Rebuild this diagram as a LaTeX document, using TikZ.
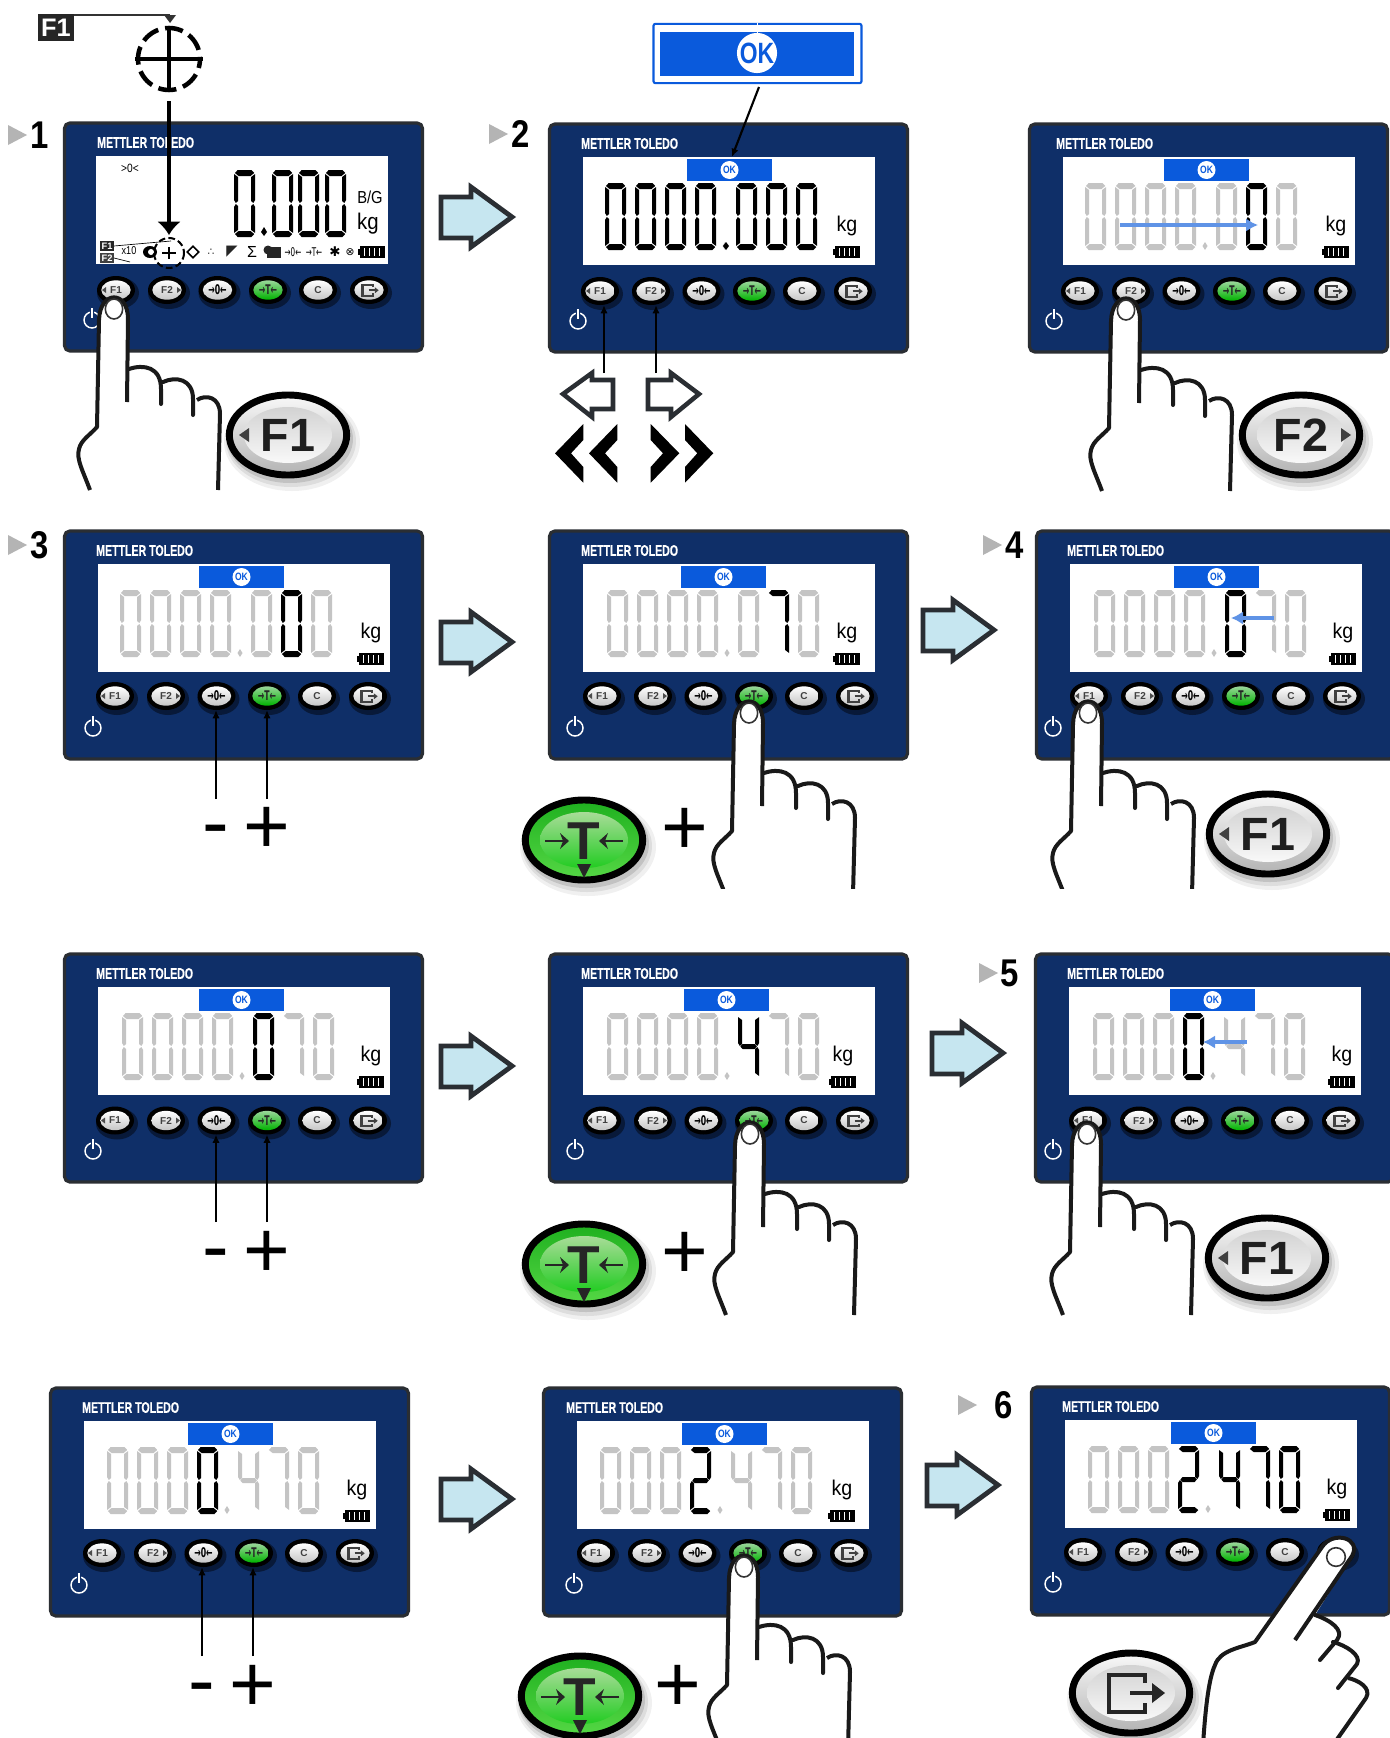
\documentclass[tikz,border=0pt]{standalone}
\usepackage{fontspec}
\usepackage{graphicx}
\setmainfont{Liberation Sans}
\newfontfamily\djv{DejaVu Sans}
\newfontfamily\ttlf[UprightFont=* Bold,FakeBold=0.6]{Liberation Sans}
\usetikzlibrary{shapes.geometric,arrows.meta,shadings}
\definecolor{navy}{HTML}{0F2F68}
\definecolor{edge}{HTML}{2A2E33}
\definecolor{gy}{HTML}{C4C4C4}
\definecolor{bk}{HTML}{000000}
\definecolor{okblue}{HTML}{0A5ADC}
\definecolor{iceblue}{HTML}{C6E6F0}
\definecolor{steel}{HTML}{5F93E6}
\definecolor{stepgrey}{HTML}{B4B4B4}
\newcommand\fsz[1]{\fontsize{#1}{#1}\selectfont}
\tikzset{
  x=0.75pt,y=-0.75pt,
  panelbox/.style={draw=edge,fill=navy,line width=2.4pt,rounded corners=4pt,minimum width=268.5pt,minimum height=171pt,inner sep=0pt},
  screenbox/.style={fill=white,minimum width=219pt,minimum height=81pt,inner sep=0pt},
  titletxt/.style={text=white,font=\ttlf\fsz{11.5},anchor=west,inner sep=0pt},
  smallouter/.style={ellipse,fill=black,minimum width=28.5pt,minimum height=21pt,inner sep=0pt},
  smallinner/.style={ellipse,minimum width=22pt,minimum height=14.5pt,inner sep=0pt,font=\bfseries\fsz{7.5},text=black!75},
  bigouter/.style={ellipse,draw=black,line width=5.2pt,minimum width=88pt,minimum height=60pt,inner sep=0pt},
  biginner/.style={ellipse,minimum width=66pt,minimum height=42pt,inner sep=0pt,font=\bfseries\fsz{35},text=black!88},
  okband/.style={fill=okblue,minimum width=63.5pt,minimum height=17pt,inner sep=0pt},
  okdisc/.style={circle,fill=white,minimum size=13.5pt,inner sep=0pt,text=okblue,font=\bfseries\fsz{8}},
  kgtxt/.style={font=\fsz{16},inner sep=0pt},
  hline/.style={line width=3pt,draw=black!90,line cap=round,line join=round},
  blockarrow/.style={fill=iceblue,draw=edge,line width=3.6pt,line join=miter},
  hollowarrow/.style={fill=white,draw=edge,line width=3.4pt,line join=miter},
  thinarrow/.style={line width=1.6pt,draw=black,-{Latex[length=6pt,width=5.5pt]}},
  steelarrow/.style={line width=3pt,draw=steel,-{Latex[length=9pt,width=10pt]}},
  plustxt/.style={font=\fsz{60},inner sep=0pt},
  steptxt/.style={font=\bfseries\fsz{29},inner sep=0pt}
}
% seven segment parts
\newcommand\sA{\fill (4,0)--(19,0)--(22,3)--(18,6)--(5,6)--(1,3)--cycle;}
\newcommand\sB{\fill (18.6,7)--(23,4)--(23,30)--(21,33)--(18.6,31)--cycle;}
\newcommand\sC{\fill (18.6,36)--(21,34)--(23,37)--(23,63)--(18.6,60)--cycle;}
\newcommand\sD{\fill (5,61)--(18,61)--(22,64)--(19,67)--(4,67)--(1,64)--cycle;}
\newcommand\sE{\fill (0,37)--(2,34)--(4.4,36)--(4.4,60)--(0,63)--cycle;}
\newcommand\sF{\fill (0,4)--(4.4,7)--(4.4,31)--(2,33)--(0,30)--cycle;}
\newcommand\sG{\fill (5,31)--(18,31)--(20.5,33.5)--(18,36)--(5,36)--(2.5,33.5)--cycle;}
\expandafter\def\csname dg0\endcsname{\sA\sB\sC\sD\sE\sF}
\expandafter\def\csname dg2\endcsname{\sA\sB\sG\sE\sD}
\expandafter\def\csname dg4\endcsname{\sF\sG\sB\sC}
\expandafter\def\csname dg7\endcsname{\sA\sB\sC}
\def\dgsx{0.92}
\def\pwr{28}
\def\bty{167}
\def\scrx{181}
\newcommand\dg[4]{\begin{scope}[shift={(#1,#2)},xscale=\dgsx,color=#4]\csname dg#3\endcsname\end{scope}}
\newcommand\digitrow[3]{%
  \foreach \d/\c [count=\i] in {#3}{%
    \pgfmathsetmacro\dpos{{0,30,60,90,131,161,191}[\i-1]}%
    \dg{#1+\dpos}{60}{\d}{\c}}%
  \fill[#2] (#1+120,119)--(#1+122.5,123)--(#1+120,127)--(#1+117.5,123)--cycle;}
\newcommand\exiticon[1]{%
  \draw[line join=miter,line width=#1*3.4pt] (17,-9)--(17,-17)--(-19,-17)--(-19,20)--(17,20)--(17,11);
  \draw[line width=#1*3.4pt] (2,1)--(28,1);
  \fill (24,-9)--(37,1)--(24,11)--cycle;}
\newcommand\sbtn[5]{% name, x, label, top, bottom
  \fill[black,opacity=.45] (#2+2,\bty+3) ellipse[x radius=21,y radius=16];
  \node[smallouter] (#1) at (#2,\bty) {};
  \node[smallinner,top color=#4,bottom color=#5] (#1i) at (#2,\bty) {#3};}
\newcommand\battery[2]{%
  \begin{scope}[shift={(#1,#2)}]
  \fill[black] (-13,-6) rectangle (12,6); \fill[black] (-15,-3) rectangle (-12,3);
  \fill[white] (-9,-4) rectangle (-8,4); \fill[white] (-4,-4) rectangle (-3,4);
  \fill[white] (1,-4) rectangle (2,4); \fill[white] (6,-4) rectangle (7,4);
  \end{scope}}
% panel frame: name, x, y, title dx, button dx
\newcommand\panelbase[5]{%
  \node[panelbox] (#1) at (#2+180.5,#3+115) {};
  \begin{scope}[shift={(#2,#3)}]
  \node[screenbox] (#1s) at (\scrx,88) {};
  \node[titletxt] (#1t) at (#4,20.5) {\scalebox{.69}[1]{METTLER TOLEDO}};
  \sbtn{#1b1}{#5+0}{F1}{white}{gray!45}
  \fill[black!70] (#5-14,\bty)--(#5-10,\bty-3)--(#5-10,\bty+3)--cycle;
  \sbtn{#1b2}{#5+51}{F2}{white}{gray!45}
  \fill[black!70] (#5+65,\bty)--(#5+61,\bty-3)--(#5+61,\bty+3)--cycle;
  \sbtn{#1b3}{#5+101.5}{\djv\bfseries\fsz{10}\color{black}\scalebox{.58}[1]{→0←}}{white}{gray!45}
  \sbtn{#1b4}{#5+152}{\djv\bfseries\fsz{10}\color{black!85}\scalebox{.58}[1]{→T←}}{green!60!black!40}{green!70!black}
  \sbtn{#1b5}{#5+202}{C}{white}{gray!45}
  \sbtn{#1b6}{#5+253}{}{white}{gray!45}
  \begin{scope}[shift={(#5+252,\bty)},scale=.29,color=black!75]\exiticon{.45}\end{scope}
  \draw[white,line width=1.1pt] (\pwr,198) circle[radius=8];
  \draw[navy,line width=3pt] (\pwr,185)--(\pwr,194);
  \draw[white,line width=1.1pt] (\pwr,186)--(\pwr,196);
  \end{scope}}
% full panel: name,x,y,title dx,button dx,ok dx,kg dx,digit dx,digit list
\newcommand\panelfull[9]{%
  \panelbase{#1}{#2}{#3}{#4}{#5}
  \begin{scope}[shift={(#2,#3)}]
  \node[okband] (#1ok) at (#6+42.5,47) {};
  \node[okdisc] (#1okd) at (#6+42.5,47) {\scalebox{.8}[1]{OK}};
  \node[kgtxt] (#1kg) at (#7,103) {\scalebox{.92}[1]{kg}};
  \battery{#7+1}{129}
  \def\dotc{gy}
  \digitrow{#8}{\dotc}{#9}
  \end{scope}}
\newcommand\hand[3]{% name,x,y
  \begin{scope}[shift={(#2,#3)}]
  \fill[white] (-24,185) .. controls (-31,162) and (-38,150) .. (-35,140) .. controls (-33,131) and (-24,126) .. (-17,118) -- (-15,11) .. controls (-14,-19) and (14,-19) .. (14,10) -- (15,60) .. controls (30,55) and (47,58) .. (47,75) -- (49,73) .. controls (62,67) and (79,70) .. (79,88) -- (83,91) .. controls (92,85) and (106,88) .. (106,105) -- (104,185) -- cycle;
  \draw[hline,line cap=butt] (-24,181) .. controls (-31,162) and (-38,150) .. (-35,140) .. controls (-33,131) and (-24,126) .. (-17,118) -- (-15,11) .. controls (-14,-19) and (14,-19) .. (14,10) -- (13,93);
  \draw[hline] (15,60) .. controls (30,55) and (47,58) .. (47,80) -- (47,95);
  \draw[hline] (49,73) .. controls (62,67) and (79,70) .. (79,90) -- (79,106);
  \draw[hline,line cap=butt] (83,91) .. controls (92,85) and (106,88) .. (106,105) -- (104,181);
  \node[ellipse,draw=black!80,line width=1.2pt,fill=white,minimum width=13pt,minimum height=15pt,inner sep=0pt] (#1) at (0,0) {};
  \end{scope}}
\newcommand\blockarr[2]{% left x, center y
  \begin{scope}[shift={(#1,#2)}]
  \draw[blockarrow] (1,-20)--(31,-20)--(31,-30)--(72,0)--(31,30)--(31,21)--(1,21)--cycle;
  \end{scope}}
\newcommand\bigshadow[2]{%
  \fill[black,opacity=.06] (#1+4,#2+7) ellipse[x radius=68,y radius=49];
  \fill[black,opacity=.08] (#1+3,#2+6) ellipse[x radius=65,y radius=46];
  \fill[black,opacity=.12] (#1+2,#2+4) ellipse[x radius=63,y radius=44];}
\newcommand\biggrey[4]{% name,x,y,text
  \bigshadow{#2}{#3}
  \node[bigouter,top color=gray!5,bottom color=gray!60] (#1) at (#2,#3) {};
  \node[biginner,top color=gray!35,bottom color=gray!5] (#1i) at (#2,#3) {#4};}
\newcommand\biggreen[3]{% name,x,y
  \bigshadow{#2}{#3}
  \definecolor{grA}{HTML}{1FB01F}\definecolor{grB}{HTML}{55D845}
  \definecolor{grC}{HTML}{A8DC98}\definecolor{grD}{HTML}{22CC22}
  \node[bigouter,top color=grA,bottom color=grB] (#1) at (#2,#3) {};
  \node[biginner,top color=grC,bottom color=grD] (#1i) at (#2,#3) {};
  \node[inner sep=0pt,text=black!85,font=\bfseries\fsz{40}] (#1t) at (#2,#3+1) {T};
  \begin{scope}[shift={(#2,#3)},black!85]
  \draw[line width=2.2pt] (-39,1)--(-18,1); \fill (-24,-7)--(-15,1)--(-24,9)--(-21,1)--cycle;
  \draw[line width=2.2pt] (39,1)--(18,1); \fill (24,-7)--(15,1)--(24,9)--(21,1)--cycle;
  \fill (-7,24)--(7,24)--(0,38)--cycle;
  \end{scope}}
\newcommand\steplabel[5]{% name,tri x,num x,y,num
  \fill[stepgrey] (#2,#4-10)--(#2+19,#4)--(#2,#4+10)--cycle;
  \node[steptxt] (#1) at (#3,#4) {\scalebox{.85}[1]{#5}};}
\newcommand\plusminus[4]{% id,x minus,x plus,y
  \node[plustxt] (#1m) at (#2,#4+10) {-};
  \node[plustxt] (#1p) at (#3,#4+3) {+};}
\begin{document}
\begin{tikzpicture}
\useasboundingbox (0,0) rectangle (1389,1738);
\fill[white] (0,0) rectangle (1389,1738);

%---- row 1
\def\bty{168}
\def\scrx{179}
\def\pwr{29}
\panelbase{pa}{63}{122}{34}{53}
\def\scrx{181}
\node[inner sep=0pt,font=\fsz{9}] (zero) at (130,168) {\scalebox{.85}[1]{>0<}};
\dg{234}{170}{0}{bk}\dg{272}{170}{0}{bk}\dg{298}{170}{0}{bk}\dg{325}{170}{0}{bk}
\fill[black] (264,227)--(267,232)--(264,236)--(261,232)--cycle;
\node[inner sep=0pt,font=\fsz{13}] (bg) at (370,197) {\scalebox{.85}[1]{B/G}};
\node[inner sep=0pt,font=\fsz{17}] (kga) at (368,224) {\scalebox{.9}[1]{kg}};
\node[fill=black!85,text=white,font=\bfseries\fsz{7},inner sep=0pt,minimum width=10pt,minimum height=7pt] (lf1) at (107,246) {F1};
\node[fill=black!75,text=white,font=\bfseries\fsz{7},inner sep=0pt,minimum width=10pt,minimum height=7pt] (lf2) at (107,258) {F2};
\draw[line width=.5pt] (lf1.east)--(171,241);
\draw[line width=.5pt] (lf2.east)--(130,262);
\node[inner sep=0pt,font=\fsz{8.5}] (xten) at (129,251) {\scalebox{.8}[1]{x10}};
\fill[black] (150,252) ellipse[x radius=7,y radius=6];
\fill[white] (151,252) ellipse[x radius=3,y radius=3];
\draw[line width=1.5pt,dash pattern=on 5pt off 2.5pt] (169,253) circle[radius=15];
\draw[line width=.8pt] (162,253)--(176,253) (169,247)--(169,259);
\node[inner sep=0pt,diamond,draw=black,line width=1.2pt,minimum size=9pt] (idia) at (193,252) {};
\node[inner sep=0pt,font=\fsz{8}\djv,text=black!80] (itri) at (211,252) {∴};
\node[inner sep=0pt,font=\fsz{11}\djv,text=black!85] (iflag) at (232,252) {◤};
\node[inner sep=0pt,font=\fsz{12}] (isum) at (252,252) {Σ};
\fill[black!85] (267,247) rectangle (281,258);
\fill[black!85] (268,250) circle[radius=4.5];
\node[inner sep=0pt,font=\fsz{9}\djv] (izero) at (293,252) {\scalebox{.6}[1]{→0←}};
\node[inner sep=0pt,font=\fsz{9}\djv] (itare) at (314,252) {\scalebox{.6}[1]{→T←}};
\node[inner sep=0pt,font=\fsz{10}\djv] (istar) at (335,252) {✱};
\node[inner sep=0pt,font=\fsz{8}\djv] (iotim) at (350,252) {⊗};
\battery{373}{252}
% key legend above panel 1
\node[fill=black!85,text=white,font=\bfseries\fsz{19},inner sep=0pt,minimum width=27pt,minimum height=20pt] (fone) at (56,27.5) {F1};
\coordinate (ftop) at (170,15);
\draw[line width=1pt,black!80] (fone.north east |- ftop)--(ftop);
\fill[black!80] (164,15)--(176,15)--(170,23)--cycle;
\node[circle,inner sep=0pt,minimum size=45pt] (cross) at (169,59) {};
\draw[line width=3.4pt,dash pattern=on 13.6pt off 5.3pt,dash phase=6.8pt] (cross) circle[radius=31];
\draw[line width=3.2pt] (135,59)--(203,59) (169,26)--(169,92);
\coordinate (ctip) at (169,235);
\draw[line width=3.7pt,-{Latex[length=10pt,width=18pt]}] (169,101)--(ctip);
\hand{hf1}{114}{309}
\biggrey{kf1}{288}{435}{F1}
\fill[black!75] (239,435)--(249,428)--(249,442)--cycle;

\def\pwr{30}
\panelfull{pb}{548}{123}{33}{52}{139}{299}{57}{0/bk,0/bk,0/bk,0/bk,0/bk,0/bk,0/bk}
\fill[black] (726,242)--(729,246)--(726,250)--(723,246)--cycle;
\node[draw=okblue,line width=1.6pt,fill=white,rounded corners=1.5pt,minimum width=156pt,minimum height=44.5pt,inner sep=0pt] (okbig) at (757.5,53.5) {};
\node[fill=okblue,minimum width=145.5pt,minimum height=33.5pt,inner sep=0pt] (okbigi) at (757,54) {};
\node[circle,fill=white,minimum size=30pt,inner sep=0pt,text=okblue,font=\bfseries\fsz{22}] (okbigd) at (757,53) {\scalebox{.78}[1]{OK}};
\fill[white] (756.5,23) rectangle (758,36);
\draw[line width=1.6pt,-{Latex[length=6pt,width=5.5pt]}] (759,87)--(pbs.north -| 732,157);
\draw[hollowarrow] (563,394)--(592,373)--(592,380)--(613,380)--(613,409)--(592,409)--(592,417)--cycle;
\draw[hollowarrow] (648,380)--(671,380)--(671,373)--(699,394)--(671,417)--(671,409)--(648,409)--cycle;
\coordinate (la) at (604,373);\coordinate (ra) at (656,373);
\draw[thinarrow] (la)--(la |- pbb1.south);
\draw[thinarrow] (ra)--(ra |- pbb2.south);
\fill[black] (583.3,424)--(555,453.3)--(583.3,482.7)--(583.3,467)--(571,453.3)--(583.3,440)--cycle;
\fill[black] (617.3,424)--(589,453.3)--(617.3,482.7)--(617.3,467)--(605,453.3)--(617.3,440)--cycle;
\fill[black] (650.7,424)--(679.3,453.3)--(650.7,482.7)--(650.7,467)--(663,453.3)--(650.7,440)--cycle;
\fill[black] (685,424)--(713.3,453.3)--(685,482.7)--(685,467)--(697.3,453.3)--(685,440)--cycle;
\blockarr{440}{217}

\def\pwr{26}
\panelfull{pc}{1028}{123}{28}{52}{136}{308}{57}{0/gy,0/gy,0/gy,0/gy,0/gy,0/bk,0/gy}
\coordinate (sa) at (1120,225);\coordinate (sb) at (1258,225);
\draw[steelarrow] (sa)--(sb);
\hand{hf2}{1126}{310}
\biggrey{kf2}{1301}{435}{F2}
\fill[black!75] (1351,435)--(1341,428)--(1341,442)--cycle;
\steplabel{sone}{8}{40}{135}{1}
\steplabel{stwo}{489}{521}{134}{2}

%---- row 2
\def\bty{166}
\def\pwr{30}
\panelfull{pd}{63}{530}{33}{52}{136}{308}{57}{0/gy,0/gy,0/gy,0/gy,0/gy,0/bk,0/gy}
\plusminus{da}{216}{267}{827}
\coordinate (dm) at (216,799);\coordinate (dp) at (267,799);
\draw[thinarrow] (dm)--(dm |- pdb3.south);
\draw[thinarrow] (dp)--(dp |- pdb4.south);
\blockarr{440}{642}
\def\pwr{27}
\panelfull{pe}{548}{530}{33}{54}{133}{299}{59}{0/gy,0/gy,0/gy,0/gy,0/gy,7/bk,0/gy}
\hand{hpe}{749}{713}
\fill[white] (700,889) rectangle (870,899);
\biggreen{ke}{584}{840}
\node[plustxt] (pluse) at (685,831) {+};
\blockarr{922}{630}
\def\pwr{18}
\panelfull{pf}{1035}{530}{32}{54}{139}{308}{59}{0/gy,0/gy,0/gy,0/gy,0/bk,7/gy,0/gy}
\coordinate (fa) at (1274,618);\coordinate (fb) at (1231,618);
\draw[steelarrow] (fa)--(fb);
\hand{hpf}{1088}{713}
\fill[white] (1040,889) rectangle (1200,899);
\biggrey{kf}{1268}{834}{F1}
\fill[black!75] (1219,834)--(1229,827)--(1229,841)--cycle;
\steplabel{sthree}{8}{40}{545}{3}
\steplabel{sfour}{983}{1015}{545}{4}

%---- row 3
\def\bty{167.5}
\def\pwr{30}
\panelfull{pg}{63}{953}{33}{52}{136}{308}{59}{0/gy,0/gy,0/gy,0/gy,0/bk,7/gy,0/gy}
\plusminus{ga}{216}{267}{1251}
\coordinate (gm) at (216,1222);\coordinate (gp) at (267,1222);
\draw[thinarrow] (gm)--(gm |- pgb3.south);
\draw[thinarrow] (gp)--(gp |- pgb4.south);
\blockarr{440}{1066}
\def\pwr{27}
\panelfull{ph}{548}{953}{33}{54}{136}{295}{59}{0/gy,0/gy,0/gy,0/gy,4/bk,7/gy,0/gy}
\hand{hph}{750}{1134}
\biggreen{kh}{584}{1264}
\node[plustxt] (plush) at (685,1255) {+};
\blockarr{931}{1053}
\def\pwr{19}
\panelfull{pi}{1034}{953}{33}{54}{136}{308}{59}{0/gy,0/gy,0/gy,0/bk,4/gy,7/gy,0/gy}
\coordinate (ia) at (1247,1042);\coordinate (ib) at (1203,1042);
\draw[steelarrow] (ia)--(ib);
\hand{hpi}{1087}{1134}
\biggrey{ki}{1267}{1258}{F1}
\fill[black!75] (1218,1258)--(1228,1251)--(1228,1265)--cycle;
\steplabel{sfive}{979}{1010}{973}{5}

%---- row 4
\def\bty{166}
\def\pwr{30}
\panelfull{pj}{49}{1387}{33}{53}{139}{308}{58}{0/gy,0/gy,0/gy,0/bk,4/gy,7/gy,0/gy}
\plusminus{ja}{202}{253}{1685}
\coordinate (jm) at (202,1656);\coordinate (jp) at (253,1656);
\draw[thinarrow] (jm)--(jm |- pjb3.south);
\draw[thinarrow] (jp)--(jp |- pjb4.south);
\blockarr{440}{1499}
\def\pwr{32}
\panelfull{pk}{542}{1387}{24}{54}{140}{300}{58}{0/gy,0/gy,0/gy,2/bk,4/gy,7/gy,0/gy}
\hand{hpk}{744}{1567}
\biggreen{kk}{580}{1696}
\node[plustxt] (plusk) at (678,1688) {+};
\blockarr{926}{1485}
\def\pwr{23}
\panelfull{pl}{1030}{1386}{32}{53}{141}{307}{58}{0/gy,0/gy,0/gy,2/bk,4/bk,7/bk,0/bk}
\steplabel{ssix}{958}{1004}{1405}{6}
% diagonal hand
\fill[white] (1203,1745) .. controls (1205,1715) and (1208,1680) .. (1215,1665) .. controls (1220,1650) and (1240,1648) .. (1255,1642) -- (1322,1547) .. controls (1333,1530) and (1362,1538) .. (1352,1556) -- (1315,1615) .. controls (1330,1620) and (1345,1630) .. (1337,1640) -- (1333,1642) .. controls (1345,1645) and (1362,1655) .. (1357,1664) -- (1348,1678) .. controls (1358,1680) and (1372,1688) .. (1366,1698) -- (1333,1745) -- cycle;
\draw[hline,line cap=butt] (1203,1745) .. controls (1205,1715) and (1208,1680) .. (1215,1665) .. controls (1220,1650) and (1240,1648) .. (1255,1642) -- (1322,1547) .. controls (1333,1530) and (1362,1538) .. (1352,1556) -- (1295,1640);
\draw[hline] (1315,1615) .. controls (1330,1620) and (1345,1630) .. (1337,1640) -- (1320,1660);
\draw[hline] (1333,1642) .. controls (1345,1645) and (1362,1655) .. (1357,1664) -- (1338,1688);
\draw[hline,line cap=butt] (1348,1678) .. controls (1358,1680) and (1372,1688) .. (1366,1698) -- (1333,1745);
\node[ellipse,draw=black!80,line width=1.2pt,fill=white,minimum width=14pt,minimum height=14pt,inner sep=0pt] (hpl) at (1336,1557) {};
\biggrey{kl}{1131}{1693}{}
\begin{scope}[shift={(1128,1692)},color=black!85]\exiticon{1}\end{scope}
\end{tikzpicture}
\end{document}
